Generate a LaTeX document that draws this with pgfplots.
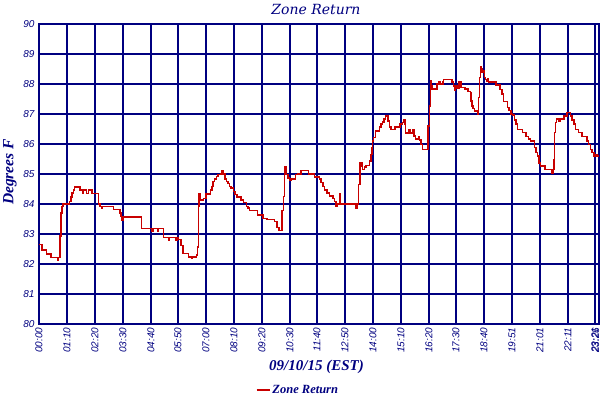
\documentclass[border=0pt]{standalone}
\usepackage{fontspec}
\setmainfont{Liberation Sans}
\newfontfamily\serifit{Liberation Serif}
\newfontfamily\titlefont{DejaVu Serif}
\usepackage{pgfplots}
\pgfplotsset{compat=1.18}
\definecolor{navyline}{RGB}{0,0,128}
\definecolor{zonered}{RGB}{200,0,0}

\begin{document}
\begin{tikzpicture}[x=1pt,y=1pt]
\useasboundingbox (0,0) rectangle (600,400);
\begin{axis}[
    at={(39pt,76pt)}, anchor=south west,
    scale only axis,
    width=560pt, height=300pt,
    xmin=0, xmax=1410,
    ymin=80, ymax=90,
    ytick={80,81,...,90},
    % tick positions follow the uneven sample spacing of the original
    xtick={0,70.50,141.00,211.50,282.00,349.98,420.48,490.98,561.48,631.98,699.96,770.46,840.96,911.46,981.96,1049.95,1120.45,1190.95,1261.45,1331.95,1399.93},
    xticklabels={00:00,01:10,02:20,03:30,04:40,05:50,07:00,08:10,09:20,10:30,11:40,12:50,14:00,15:10,16:20,17:30,18:40,19:51,21:01,22:11,23:21},
    extra x ticks={1401.5},
    extra x tick labels={23:26},
    extra x tick style={grid=none},
    grid=major,
    major grid style={navyline, line width=1.6pt},
    axis line style={navyline, line width=1.6pt},
    major tick length=0pt,
    /pgf/number format/assume math mode=true,
    tick label style={font=\itshape\fontsize{10}{12}\selectfont, text=navyline},
    xticklabel style={rotate=90, anchor=east, inner ysep=0.5pt},
    yticklabel style={anchor=east, xshift=-1pt},
    title={Zone Return},
    title style={at={(0.4946,1.03)}, anchor=center, font=\titlefont\itshape\fontsize{14}{16}\selectfont, text=navyline},
    xlabel={09/10/15 (EST)},
    xlabel style={at={(0.4955,-0.1433)}, anchor=center, font=\serifit\bfseries\itshape\fontsize{15}{17}\selectfont, text=navyline},
    ylabel={Degrees F},
    ylabel style={at={(-0.0518,0.5067)}, anchor=center, font=\serifit\bfseries\itshape\fontsize{15.5}{17}\selectfont, text=navyline},
    legend style={at={(0.4625,-0.22)}, anchor=center, draw=none, fill=none,
        font=\serifit\bfseries\itshape\fontsize{12.5}{14}\selectfont, text=navyline},
    legend image code/.code={\draw[#1] (0pt,0pt) -- (13pt,0pt);},
]
\addplot[const plot, zonered, line width=1.5pt] table {
t v
0 82.65
7 82.46
19 82.33
30 82.21
46 82.12
48 82.21
53 82.94
55 83.70
58 83.92
61 84.00
77 84.09
80 84.24
83 84.37
87 84.46
90 84.56
103 84.46
110 84.37
111 84.46
120 84.35
125 84.46
133 84.35
150 84.00
153 83.92
158 83.85
160 83.92
187 83.81
204 83.70
207 83.58
209 83.47
211 83.56
258 83.19
285 83.08
287 83.19
298 83.08
300 83.19
313 82.89
327 82.78
329 82.89
345 82.78
347 82.89
350 82.82
357 82.62
363 82.35
376 82.24
385 82.18
387 82.24
396 82.30
399 82.57
401 83.91
403 84.34
407 84.14
414 84.19
420 84.33
432 84.47
435 84.59
438 84.75
442 84.83
447 84.92
451 84.98
457 85.00
461 85.12
463 85.00
468 84.83
472 84.75
476 84.68
480 84.59
484 84.53
490 84.42
494 84.31
499 84.23
509 84.14
515 84.05
522 83.91
526 83.86
530 83.78
550 83.63
564 83.52
574 83.49
593 83.41
599 83.22
604 83.11
612 83.78
615 84.25
618 85.03
620 85.24
622 84.98
627 84.87
631 84.79
635 84.83
646 84.98
652 85.00
660 85.12
679 85.00
694 84.90
706 84.83
710 84.72
715 84.59
719 84.47
725 84.36
731 84.27
740 84.19
744 84.08
748 83.91
750 84.00
758 84.33
759 84.00
798 83.86
802 84.00
804 84.65
808 85.37
813 85.26
815 85.15
819 85.24
823 85.28
832 85.43
836 85.65
838 85.88
840 86.10
842 86.21
847 86.44
857 86.57
861 86.66
865 86.74
869 86.83
872 86.94
879 86.77
882 86.57
886 86.49
896 86.57
909 86.66
915 86.72
919 86.80
922 86.66
923 86.36
932 86.46
936 86.36
942 86.49
944 86.27
948 86.16
955 86.25
958 86.13
962 85.99
965 85.82
980 86.60
983 87.27
986 88.11
988 87.94
990 87.83
1002 88.00
1007 88.06
1011 88.00
1017 88.06
1019 88.15
1040 88.06
1044 87.94
1046 87.78
1048 87.94
1053 87.85
1057 88.06
1063 87.89
1072 87.83
1080 87.75
1086 87.72
1088 87.44
1090 87.27
1093 87.18
1097 87.10
1105 86.99
1107 87.55
1109 88.22
1112 88.59
1113 88.50
1116 88.39
1119 88.45
1122 88.22
1124 88.15
1127 88.08
1130 88.17
1132 88.06
1151 87.97
1161 87.81
1166 87.66
1169 87.41
1180 87.22
1184 87.11
1188 87.00
1192 86.96
1197 86.80
1201 86.66
1205 86.49
1217 86.38
1226 86.25
1232 86.16
1237 86.10
1247 85.88
1251 85.71
1255 85.60
1259 85.37
1263 85.26
1274 85.15
1291 85.04
1294 85.15
1297 85.49
1298 86.38
1301 86.72
1303 86.83
1309 86.77
1313 86.83
1322 86.94
1330 87.05
1338 86.94
1342 86.80
1347 86.66
1351 86.49
1359 86.38
1367 86.25
1380 86.10
1384 85.99
1388 85.82
1392 85.71
1397 85.60
1401 85.65
1405 85.60
1409 85.60
};
\addlegendentry{Zone Return}
\end{axis}
\end{tikzpicture}
\end{document}
